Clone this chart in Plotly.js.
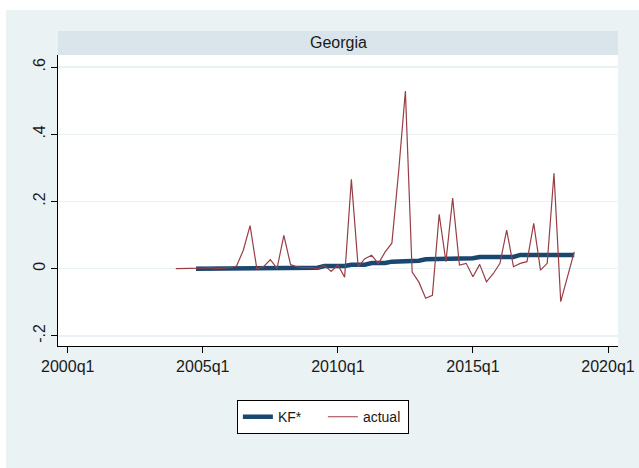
<!DOCTYPE html>
<html><head><meta charset="utf-8">
<script src="https://cdn.plot.ly/plotly-3.0.1.min.js"></script>
<style>
html,body{margin:0;padding:0;background:#fff;width:639px;height:468px;overflow:hidden}
#chart{position:absolute;left:6px;top:10px;width:633px;height:458px}
</style>
</head><body><div id="chart"></div>
<script>
const panelTitle = "Georgia";
const seriesNames = ["KF*", "actual"];
// actual: quarterly values starting 2004q1
const actualStart = "2004q1";
const actualValues = [
  0, 0, 0.002, 0.001, 0.002, 0.003, 0.001, 0.002, 0.003, 0.008,
  0.055, 0.128, 0.0, 0.006, 0.027, 0.001, 0.099, 0.012, 0.005, 0.003,
  0.003, 0.0, 0.01, -0.008, 0.011, -0.025, 0.266, 0.006, 0.03, 0.04,
  0.015, 0.05, 0.076, 0.29, 0.529, -0.01, -0.04, -0.088, -0.079, 0.162,
  0.021, 0.21, 0.011, 0.016, -0.024, 0.013, -0.039, -0.015, 0.016, 0.115,
  0.006, 0.016, 0.021, 0.135, -0.004, 0.016, 0.284, -0.098, -0.025, 0.05
];
// KF*: quarterly values starting 2004q4
const kfStart = "2004q4";
const kfValues = [
  0.0, 0.0, 0.0, 0.0, 0.0, 0.0, 0.0, 0.0, 0.0, 0.0, 0.0, 0.0,
  0.003, 0.003, 0.003, 0.003, 0.003, 0.003, 0.003,
  0.008, 0.008, 0.008, 0.008,
  0.012, 0.012, 0.012,
  0.017, 0.017, 0.017,
  0.021, 0.021, 0.021,
  0.024, 0.024,
  0.028, 0.028, 0.028,
  0.031, 0.031, 0.031, 0.031, 0.031,
  0.035, 0.035, 0.035, 0.035, 0.035, 0.035,
  0.041, 0.041, 0.041, 0.041, 0.041, 0.041, 0.041, 0.041, 0.041
];
const xTickLabels = ["2000q1", "2005q1", "2010q1", "2015q1", "2020q1"];
const yTickValues = [-0.2, 0, 0.2, 0.4, 0.6];
const yTickLabels = ["-.2", "0", ".2", ".4", ".6"];

function qToNum(s) { const p = s.split("q"); return +p[0] + (+p[1] - 1) / 4; }
function quarterAxis(start, n) { const s = qToNum(start); return Array.from({length: n}, (_, i) => s + i / 4); }

const fontFam = "Liberation Sans, Arial, sans-serif";
const traces = [
  {x: quarterAxis(kfStart, kfValues.length), y: kfValues, name: seriesNames[0], type: "scatter", mode: "lines",
   line: {color: "#1a476f", width: 4.5}},
  {x: quarterAxis(actualStart, actualValues.length), y: actualValues, name: seriesNames[1], type: "scatter", mode: "lines",
   line: {color: "#983e45", width: 1.2}}
];
const layout = {
  width: 633, height: 458,
  margin: {l: 52, r: 21, t: 45, b: 122},
  paper_bgcolor: "#eaf2f3", plot_bgcolor: "#ffffff",
  font: {family: fontFam, size: 16, color: "#1a1a1a"},
  showlegend: true,
  legend: {orientation: "h", x: 0.473, xanchor: "center", y: -0.186, yanchor: "top",
           bgcolor: "#ffffff", bordercolor: "#000000", borderwidth: 1, entrywidth: 40,
           font: {family: fontFam, size: 14, color: "#1a1a1a"}},
  xaxis: {range: [1999.64, 2020.37], tickvals: xTickLabels.map(qToNum), ticktext: xTickLabels,
          ticklabeloverflow: "allow",
          showgrid: false, zeroline: false, showline: true, linecolor: "#000", linewidth: 1,
          ticks: "outside", ticklen: 6, tickcolor: "#000", tickfont: {size: 16}},
  yaxis: {range: [-0.23, 0.636], tickvals: yTickValues, ticktext: yTickLabels, tickangle: -90,
          showgrid: true, gridcolor: "#eaf2f3", gridwidth: 1.5, zeroline: false,
          showline: true, linecolor: "#000", linewidth: 1,
          ticks: "outside", ticklen: 6, tickcolor: "#000", tickfont: {size: 16}},
  shapes: [{type: "rect", xref: "paper", yref: "paper", x0: 0, x1: 1, y0: 1, y1: 1 + 24 / 291,
            fillcolor: "#d9e5eb", line: {width: 0}}],
  annotations: [{text: panelTitle, xref: "paper", yref: "paper", x: 0.5, y: 1 + 12 / 291,
                 xanchor: "center", yanchor: "middle", showarrow: false,
                 font: {family: fontFam, size: 16, color: "#1a1a1a"}}],
  hovermode: false
};
Plotly.newPlot("chart", traces, layout, {displayModeBar: false, staticPlot: true});
</script>
</body></html>
